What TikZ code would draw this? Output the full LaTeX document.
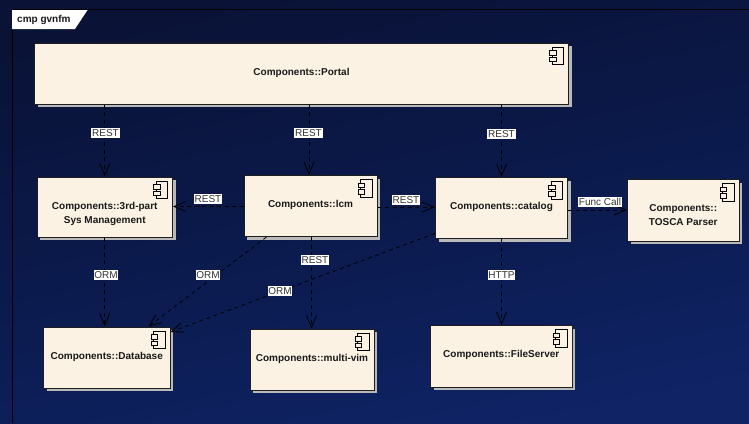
\documentclass[tikz,border=0pt]{standalone}
\usepackage{fontspec}
\setmainfont{Liberation Sans}
\usetikzlibrary{arrows.meta,fit,calc}
\definecolor{cream}{HTML}{FBF2E4}
\definecolor{shad}{HTML}{B9B9B9}
\definecolor{edgeC}{HTML}{1E1E1E}
\definecolor{bgtop}{HTML}{0A1236}
\definecolor{bgmid}{HTML}{0B1A4C}
\definecolor{bgbot}{HTML}{0F2365}
\tikzset{
  compbox/.style={draw=edgeC,line width=1pt,fill=cream,inner sep=0pt,rectangle},
  comptext/.style={font=\fontsize{10}{14}\selectfont\bfseries,text=black!90,align=center,anchor=north,inner sep=0pt},
  conn/.style={draw=black,line width=.8pt,dash pattern=on 4pt off 3.5pt,-{Straight Barb[length=12pt,width=10pt,line width=.8pt]}},
  connlabel/.style={fill=white,text=black!80,font=\fontsize{10}{11}\selectfont,inner sep=.8pt,text height=7.5pt,text depth=1.5pt},
  iconpart/.style={draw=black,line width=.8pt,fill=cream}
}
\newcommand{\compnode}[6]{%
  \fill[shad] (#2+3,#3+3) rectangle (#4+3,#5+3);
  \coordinate (#1-a) at (#2,#3);
  \coordinate (#1-b) at (#4,#5);
  \node[compbox,fit=(#1-a)(#1-b)] (#1) {};
  \node[comptext] (#1-t) at ($(#1.north)+(0,25.5)$) {#6};
  \draw[iconpart] ($(#1.north east)+(-17,4.5)$) rectangle ($(#1.north east)+(-5.5,22)$);
  \draw[iconpart] ($(#1.north east)+(-19.5,8)$) rectangle ($(#1.north east)+(-13,12.5)$);
  \draw[iconpart] ($(#1.north east)+(-19.5,14.5)$) rectangle ($(#1.north east)+(-13,19)$);
}
\begin{document}
\begin{tikzpicture}[x=1pt,y=-1pt]
\useasboundingbox (0,0) rectangle (749,423);
\shade[shading=axis,top color=bgtop,bottom color=bgbot,middle color=bgmid,shading angle=12] (0,0) rectangle (749,423);
% frame
\draw[black,line width=1pt] (12,423) -- (12,9.5) -- (749,9.5);
\fill[white] (12,10) -- (87.5,10) -- (75,29) -- (12,29) -- cycle;
\node[font=\fontsize{10}{12}\selectfont\bfseries,text=black!90,inner sep=0pt,anchor=west] (frametitle) at (17,19.5) {cmp gvnfm};
% components
\compnode{portal}{34.5}{43}{568.5}{104}{Components::Portal}
\compnode{third}{37}{177}{172.5}{237}{Components::3rd-part\\Sys Management}
\compnode{lcm}{244}{175.5}{377}{236.5}{Components::lcm}
\compnode{catalog}{435.5}{177.5}{567.5}{238.5}{Components::catalog}
\compnode{tosca}{627.5}{179.5}{739}{241}{Components::\\TOSCA Parser}
\compnode{database}{43.5}{327}{170}{388}{Components::Database}
\compnode{multivim}{250}{329}{374}{390}{Components::multi-vim}
\compnode{fileserver}{430.5}{325.5}{572}{387}{Components::FileServer}
% connectors
\draw[conn] (portal.south -| third.north) -- (third.north);
\draw[conn] ($(portal.south -| lcm.north)+(-1.5,0)$) -- ($(lcm.north)+(-1.5,0)$);
\draw[conn] (portal.south -| catalog.north) -- (catalog.north);
\draw[conn] (lcm.west |- 0,206.5) -- (third.east |- 0,206.5);
\draw[conn] (lcm.east |- 0,207) -- (catalog.west |- 0,207);
\draw[conn] (catalog.east |- 0,210) -- (tosca.west |- 0,210);
\draw[conn] (third.south) -- (third.south |- database.north);
\draw[conn] ($(lcm.south west)+(23,0)$) -- ($(database.north east)+(-22,0)$);
\draw[conn] (catalog.west |- 0,233.5) -- ($(database.north east)+(0,5.5)$);
\draw[conn] ($(lcm.south)+(1,0)$) -- ($(multivim.north)+(-0.5,0)$);
\draw[conn] (catalog.south) -- (catalog.south |- fileserver.north);
% labels
\node[connlabel] (l1) at (105.5,133) {REST};
\node[connlabel] (l2) at (308.5,133) {REST};
\node[connlabel] (l3) at (501.5,134) {REST};
\node[connlabel] (l4) at (208,199) {REST};
\node[connlabel] (l5) at (406,200) {REST};
\node[connlabel] (l6) at (600,202) {Func Call};
\node[connlabel] (l7) at (106,275) {ORM};
\node[connlabel] (l8) at (208,275) {ORM};
\node[connlabel] (l9) at (280,291) {ORM};
\node[connlabel] (l10) at (315,260) {REST};
\node[connlabel] (l11) at (501.5,275) {HTTP};
\end{tikzpicture}
\end{document}
